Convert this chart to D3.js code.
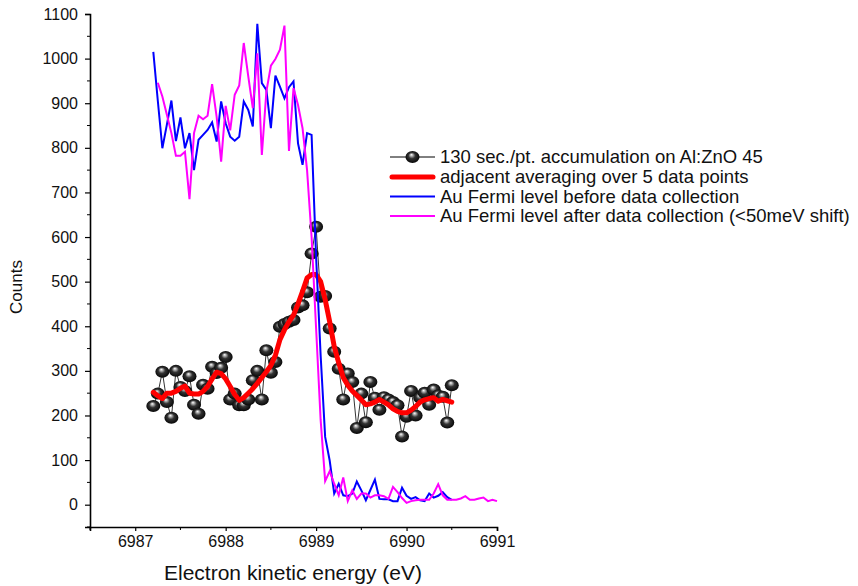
<!DOCTYPE html>
<html>
<head>
<meta charset="utf-8">
<script src="https://cdn.jsdelivr.net/npm/d3@7/dist/d3.min.js"></script>
<style>
  body { margin: 0; background: #fff; }
  svg { display: block; font-family: "Liberation Sans", Arial, sans-serif; }
</style>
</head>
<body>
<svg id="chart"></svg>
<script>
// energy grid shared by all four traces (eV)
var energy = [
  6987.20, 6987.25, 6987.30, 6987.35, 6987.40, 6987.45, 6987.50, 6987.55, 6987.60, 6987.65,
  6987.70, 6987.75, 6987.80, 6987.85, 6987.90, 6987.95, 6988.00, 6988.05, 6988.10, 6988.15,
  6988.20, 6988.25, 6988.30, 6988.35, 6988.40, 6988.45, 6988.50, 6988.55, 6988.60, 6988.65,
  6988.70, 6988.75, 6988.80, 6988.85, 6988.90, 6988.95, 6989.00, 6989.05, 6989.10, 6989.15,
  6989.20, 6989.25, 6989.30, 6989.35, 6989.40, 6989.45, 6989.50, 6989.55, 6989.60, 6989.65,
  6989.70, 6989.75, 6989.80, 6989.85, 6989.90, 6989.95, 6990.00, 6990.05, 6990.10, 6990.15,
  6990.20, 6990.25, 6990.30, 6990.35, 6990.40, 6990.45, 6990.50, 6990.55, 6990.60, 6990.65,
  6990.70, 6990.75, 6990.80, 6990.85, 6990.90, 6990.95, 6991.00
];

// 130 sec./pt. accumulation, starts at energy[0]
var sampleCounts = [
  221, 249, 298, 230, 195, 300, 264, 255, 288, 224,
  204, 269, 260, 309, 295, 307, 331, 236, 249, 223,
  223, 236, 279, 300, 236, 346, 296, 320, 399, 405,
  410, 414, 442, 447, 476, 563, 623, 466, 468, 395,
  343, 305, 236, 294, 275, 172, 249, 185, 275, 240,
  213, 241, 236, 230, 223, 153, 197, 255, 200, 240,
  251, 224, 258, 245, 242, 184, 268
];

// adjacent averaging (5 pts), starts at energy[0]
var smoothCounts = [
  252, 244, 238, 250, 250, 254, 261, 266, 250, 248,
  248, 254, 265, 282, 297, 294, 282, 265, 247, 234,
  240, 250, 260, 272, 285, 298, 312, 335, 370, 392,
  410, 425, 450, 478, 508, 516, 516, 500, 460, 410,
  355, 318, 285, 268, 255, 245, 235, 224, 226, 230,
  236, 230, 224, 215, 209, 206, 206, 212, 220, 230,
  235, 238, 240, 232, 236, 233, 230
];

// Au Fermi level before, starts at energy[0]
var auBefore = [
  1015, 905, 799, 852, 906, 815, 868, 799, 833, 750,
  818, 829, 840, 857, 814, 904, 855, 825, 816, 825,
  904, 885, 848, 1078, 945, 930, 844, 962, 937, 911,
  936, 949, 810, 762, 833, 829, 555, 335, 152, 99,
  25, 47, 21, 19, 25, 52, 32, 10, 33, 56,
  13, 12, 12, 8, 8, 38, 20, 13, 17, 10,
  8, 25, 16, 20, 28, 17, 11
];

// Au Fermi level after, starts at energy[1]
var auAfter = [
  946, 915, 874, 833, 782, 782, 791, 685, 833,
  872, 864, 872, 943, 870, 769, 894, 839, 919, 940,
  1035, 960, 889, 1012, 784, 926, 984, 999, 1020, 1074,
  793, 934, 896, 844, 750, 600, 395, 190, 53,
  75, 47, 21, 61, 8, 32, 13, 25, 25, 16,
  21, 21, 19, 13, 40, 28, 15, 4, 8, 10,
  11, 11, 11, 25, 46, 21, 11, 11, 11, 14,
  19, 11, 11, 14, 16, 8, 11, 8
];

var xMajor = [6987, 6988, 6989, 6990, 6991];
var xMinor = [6986.5, 6987.5, 6988.5, 6989.5, 6990.5];
var yMajor = [0, 100, 200, 300, 400, 500, 600, 700, 800, 900, 1000, 1100];
var yMinor = [-50, 50, 150, 250, 350, 450, 550, 650, 750, 850, 950, 1050];

var legendLabels = [
  "130 sec./pt. accumulation on Al:ZnO 45",
  "adjacent averaging over 5 data points",
  "Au Fermi level before data collection",
  "Au Fermi level after data collection (<50meV shift)"
];

var svgWidth = 858;
var svgHeight = 586;
var svg = d3.select("#chart").attr("width", svgWidth).attr("height", svgHeight);
var xScale, yScale;

var zip = function (values, offset) {
  return values.map(function (v, i) { return [energy[i + offset], v]; });
};

var createScales = function () {
  xScale = d3.scaleLinear().domain([6986.5, 6991]).range([90, 497]);
  yScale = d3.scaleLinear().domain([-50, 1100]).range([527, 14]);
};

var createDefs = function () {
  var g = svg.append("defs").append("radialGradient")
    .attr("id", "ball")
    .attr("cx", "50%").attr("cy", "50%").attr("r", "55%")
    .attr("fx", "42%").attr("fy", "30%");
  g.append("stop").attr("offset", "0%").attr("stop-color", "#ffffff");
  g.append("stop").attr("offset", "18%").attr("stop-color", "#b0b0b0");
  g.append("stop").attr("offset", "45%").attr("stop-color", "#333");
  g.append("stop").attr("offset", "100%").attr("stop-color", "#000");
};

var drawBall = function (sel, cx, cy) {
  sel.append("ellipse")
    .attr("cx", cx).attr("cy", cy)
    .attr("rx", 7).attr("ry", 6)
    .attr("fill", "url(#ball)");
};

var createAxes = function () {
  var xAxis = svg.append("g").attr("transform", "translate(0," + 527 + ")");
  xAxis.call(d3.axisBottom(xScale).tickValues(xMajor).tickSize(4).tickPadding(5).tickFormat(d3.format("d")));
  xAxis.call(function (g) {
    g.selectAll(".minor").data(xMinor).enter().append("line")
      .attr("class", "minor")
      .attr("x1", function (d) { return xScale(d); })
      .attr("x2", function (d) { return xScale(d); })
      .attr("y1", 0).attr("y2", 3)
      .attr("stroke", "#000");
  });

  var yAxis = svg.append("g").attr("transform", "translate(" + 90 + ",0)");
  yAxis.call(d3.axisLeft(yScale).tickValues(yMajor).tickSize(5).tickPadding(7).tickFormat(d3.format("d")));
  yAxis.call(function (g) {
    g.selectAll(".minor").data(yMinor).enter().append("line")
      .attr("class", "minor")
      .attr("y1", function (d) { return yScale(d); })
      .attr("y2", function (d) { return yScale(d); })
      .attr("x1", 0).attr("x2", -3)
      .attr("stroke", "#000");
  });

  svg.selectAll(".domain").attr("stroke", "#000").attr("stroke-width", 1.6);
  svg.selectAll(".tick line").attr("stroke", "#000").attr("stroke-width", 1.2);
  svg.selectAll(".tick text").attr("font-size", 16).attr("fill", "#111")
    .attr("font-family", "Liberation Sans, Arial, sans-serif");

  svg.append("text")
    .attr("x", 293).attr("y", 580)
    .attr("text-anchor", "middle")
    .attr("font-size", 21).attr("fill", "#111")
    .text("Electron kinetic energy (eV)");

  svg.append("text")
    .attr("transform", "translate(22,287) rotate(-90)")
    .attr("text-anchor", "middle")
    .attr("font-size", 17).attr("fill", "#111")
    .text("Counts");
};

var createSeries = function () {
  var line = d3.line()
    .x(function (d) { return xScale(d[0]); })
    .y(function (d) { return yScale(d[1]); });

  var samples = zip(sampleCounts, 0);
  svg.append("path").datum(samples)
    .attr("d", line).attr("fill", "none")
    .attr("stroke", "#000").attr("stroke-width", 0.8);
  var balls = svg.append("g");
  samples.forEach(function (d) { drawBall(balls, xScale(d[0]), yScale(d[1])); });

  svg.append("path").datum(zip(smoothCounts, 0))
    .attr("d", line).attr("fill", "none")
    .attr("stroke", "#ff0000").attr("stroke-width", 5)
    .attr("stroke-linejoin", "round").attr("stroke-linecap", "round");

  svg.append("path").datum(zip(auBefore, 0))
    .attr("d", line).attr("fill", "none")
    .attr("stroke", "#0000ff").attr("stroke-width", 2);

  svg.append("path").datum(zip(auAfter, 1))
    .attr("d", line).attr("fill", "none")
    .attr("stroke", "#ff00ff").attr("stroke-width", 2);
};

var createLegend = function () {
  var rowY = [157, 177, 196.5, 216];
  var styles = [
    { color: "#000", width: 1 },
    { color: "#ff0000", width: 5 },
    { color: "#0000ff", width: 2 },
    { color: "#ff00ff", width: 2 }
  ];
  var lg = svg.append("g");
  legendLabels.forEach(function (label, i) {
    lg.append("line")
      .attr("x1", i == 1 ? 392 : 390).attr("x2", i == 1 ? 433 : 435)
      .attr("y1", rowY[i]).attr("y2", rowY[i])
      .attr("stroke", styles[i].color).attr("stroke-width", styles[i].width)
      .attr("stroke-linecap", i == 1 ? "round" : "butt");
    if (i == 0) drawBall(lg, 412.5, rowY[i]);
    lg.append("text")
      .attr("x", 440).attr("y", rowY[i] + 6)
      .attr("font-size", 18.5).attr("fill", "#111")
      .text(label);
  });
};

createScales();
createDefs();
createSeries();
createAxes();
createLegend();
</script>
</body>
</html>
